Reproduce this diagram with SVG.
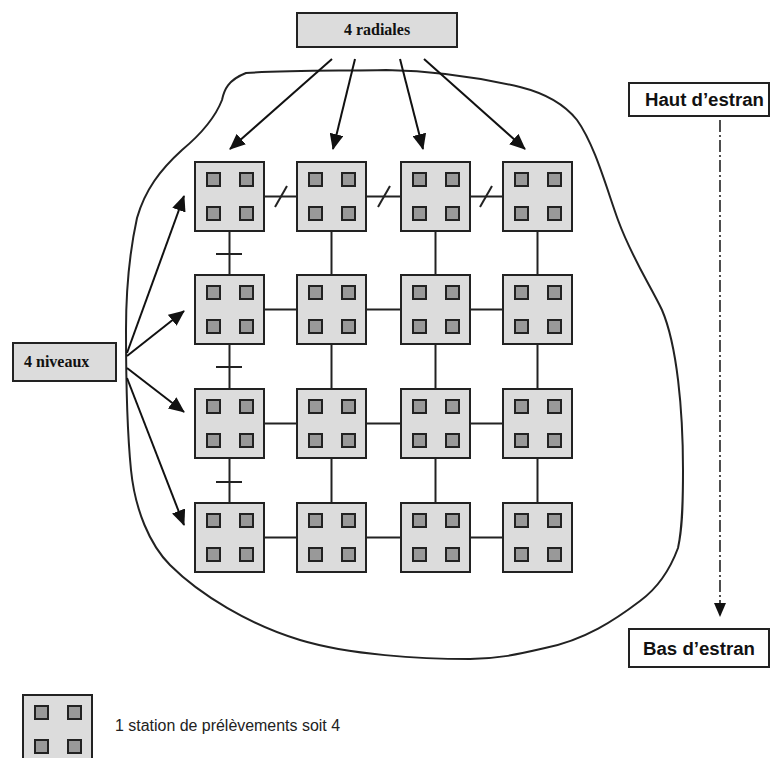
<svg xmlns="http://www.w3.org/2000/svg" width="771" height="758" viewBox="0 0 771 758">
<defs>
<style>
.box{fill:#dcdcdc;stroke:#222;stroke-width:2}
.sq{fill:#999;stroke:#222;stroke-width:2}
.ln{stroke:#222;stroke-width:2;fill:none}
.arr{stroke:#111;stroke-width:2;fill:none;marker-end:url(#ah)}
.lbl{fill:#dcdcdc;stroke:#222;stroke-width:2}
.wl{fill:#fff;stroke:#222;stroke-width:2}
.serif{font-family:"Liberation Serif","Times New Roman",serif;font-weight:bold;font-size:16px;fill:#111}
.sans{font-family:"Liberation Sans",Arial,sans-serif;font-weight:bold;font-size:18px;fill:#111}
</style>
<marker id="ah" markerUnits="userSpaceOnUse" markerWidth="16" markerHeight="14" refX="15" refY="7" orient="auto">
<path d="M0,0 L16,7 L0,14 Z" fill="#111"/>
</marker>
<g id="station">
<rect class="box" x="0" y="0" width="69" height="69"/>
<rect class="sq" x="12" y="11" width="13" height="13"/>
<rect class="sq" x="45" y="11" width="13" height="13"/>
<rect class="sq" x="12" y="45" width="13" height="13"/>
<rect class="sq" x="45" y="45" width="13" height="13"/>
</g>
</defs>
<rect width="771" height="758" fill="#fff"/>

<path id="estran" class="ln" d="M246,73 C290,70 340,71 386,70 C440,71 490,80 520,87 C548,94 565,105 577,120 C595,145 607,190 618,220 C632,258 650,285 662,310 C677,345 683,410 683,470 C683,510 682,530 678,548 C668,575 655,590 640,601 C615,620 585,640 545,648 C515,655 495,659 470,659 C420,659 350,655 300,640 C250,625 200,595 170,565 C150,545 135,510 131,470 C127,430 126,380 126,330 C126,290 130,250 137,218 C145,190 160,170 182,150 C200,135 215,118 222,100 C224,90 228,80 246,73 Z"/>

<g id="connectors">
<line class="ln" x1="264" y1="196.5" x2="297" y2="196.5"/>
<line class="ln" x1="366" y1="196.5" x2="401" y2="196.5"/>
<line class="ln" x1="470" y1="196.5" x2="503" y2="196.5"/>
<line class="ln" x1="275" y1="207" x2="287" y2="186"/>
<line class="ln" x1="378" y1="207" x2="390" y2="186"/>
<line class="ln" x1="480" y1="207" x2="492" y2="186"/>
<line class="ln" x1="264" y1="309.5" x2="297" y2="309.5"/>
<line class="ln" x1="366" y1="309.5" x2="401" y2="309.5"/>
<line class="ln" x1="470" y1="309.5" x2="503" y2="309.5"/>
<line class="ln" x1="264" y1="423.5" x2="297" y2="423.5"/>
<line class="ln" x1="366" y1="423.5" x2="401" y2="423.5"/>
<line class="ln" x1="470" y1="423.5" x2="503" y2="423.5"/>
<line class="ln" x1="264" y1="537.5" x2="297" y2="537.5"/>
<line class="ln" x1="366" y1="537.5" x2="401" y2="537.5"/>
<line class="ln" x1="470" y1="537.5" x2="503" y2="537.5"/>
<line class="ln" x1="229.5" y1="231" x2="229.5" y2="275"/>
<line class="ln" x1="229.5" y1="344" x2="229.5" y2="389"/>
<line class="ln" x1="229.5" y1="458" x2="229.5" y2="503"/>
<line class="ln" x1="216" y1="254" x2="242" y2="254"/>
<line class="ln" x1="216" y1="367" x2="242" y2="367"/>
<line class="ln" x1="216" y1="482" x2="242" y2="482"/>
<line class="ln" x1="331.5" y1="231" x2="331.5" y2="275"/>
<line class="ln" x1="331.5" y1="344" x2="331.5" y2="389"/>
<line class="ln" x1="331.5" y1="458" x2="331.5" y2="503"/>
<line class="ln" x1="435.5" y1="231" x2="435.5" y2="275"/>
<line class="ln" x1="435.5" y1="344" x2="435.5" y2="389"/>
<line class="ln" x1="435.5" y1="458" x2="435.5" y2="503"/>
<line class="ln" x1="537.5" y1="231" x2="537.5" y2="275"/>
<line class="ln" x1="537.5" y1="344" x2="537.5" y2="389"/>
<line class="ln" x1="537.5" y1="458" x2="537.5" y2="503"/>
<line class="arr" x1="332" y1="59" x2="230" y2="149"/>
<line class="arr" x1="355" y1="59" x2="333" y2="149"/>
<line class="arr" x1="400" y1="59" x2="423" y2="149"/>
<line class="arr" x1="424" y1="59" x2="525" y2="149"/>
<line class="arr" x1="127" y1="353" x2="184" y2="196"/>
<line class="arr" x1="127" y1="356" x2="184" y2="311"/>
<line class="arr" x1="127" y1="368" x2="184" y2="412"/>
<line class="arr" x1="127" y1="378" x2="184" y2="525"/>
<line x1="720" y1="120" x2="720" y2="604" stroke="#222" stroke-width="1.6" stroke-dasharray="12,3,2,3"/>
<path d="M714,603 L726,603 L720,617 Z" fill="#111"/>
</g>

<g id="stations">
<use href="#station" x="195" y="162"/>
<use href="#station" x="297" y="162"/>
<use href="#station" x="401" y="162"/>
<use href="#station" x="503" y="162"/>
<use href="#station" x="195" y="275"/>
<use href="#station" x="297" y="275"/>
<use href="#station" x="401" y="275"/>
<use href="#station" x="503" y="275"/>
<use href="#station" x="195" y="389"/>
<use href="#station" x="297" y="389"/>
<use href="#station" x="401" y="389"/>
<use href="#station" x="503" y="389"/>
<use href="#station" x="195" y="503"/>
<use href="#station" x="297" y="503"/>
<use href="#station" x="401" y="503"/>
<use href="#station" x="503" y="503"/>
</g>

<g id="radiales">
<rect class="lbl" x="297" y="13" width="160" height="34"/>
<text class="serif" x="377" y="35" text-anchor="middle">4 radiales</text>
</g>
<g id="niveaux">
<rect class="lbl" x="13" y="343" width="103" height="38"/>
<text class="serif" x="24" y="367">4 niveaux</text>
</g>
<g id="haut">
<rect class="wl" x="629" y="83" width="140" height="33"/>
<text class="sans" x="645" y="106" textLength="119" lengthAdjust="spacingAndGlyphs">Haut d’estran</text>
</g>
<g id="bas">
<rect class="wl" x="629" y="629" width="140" height="38"/>
<text class="sans" x="643" y="655" textLength="112" lengthAdjust="spacingAndGlyphs">Bas d’estran</text>
</g>
<g id="legend">
<use href="#station" x="23" y="695"/>
<text x="115" y="731" font-family="'Liberation Sans',Arial,sans-serif" font-size="16" fill="#222" textLength="225" lengthAdjust="spacingAndGlyphs">1 station de prélèvements soit 4</text>
</g>
</svg>
